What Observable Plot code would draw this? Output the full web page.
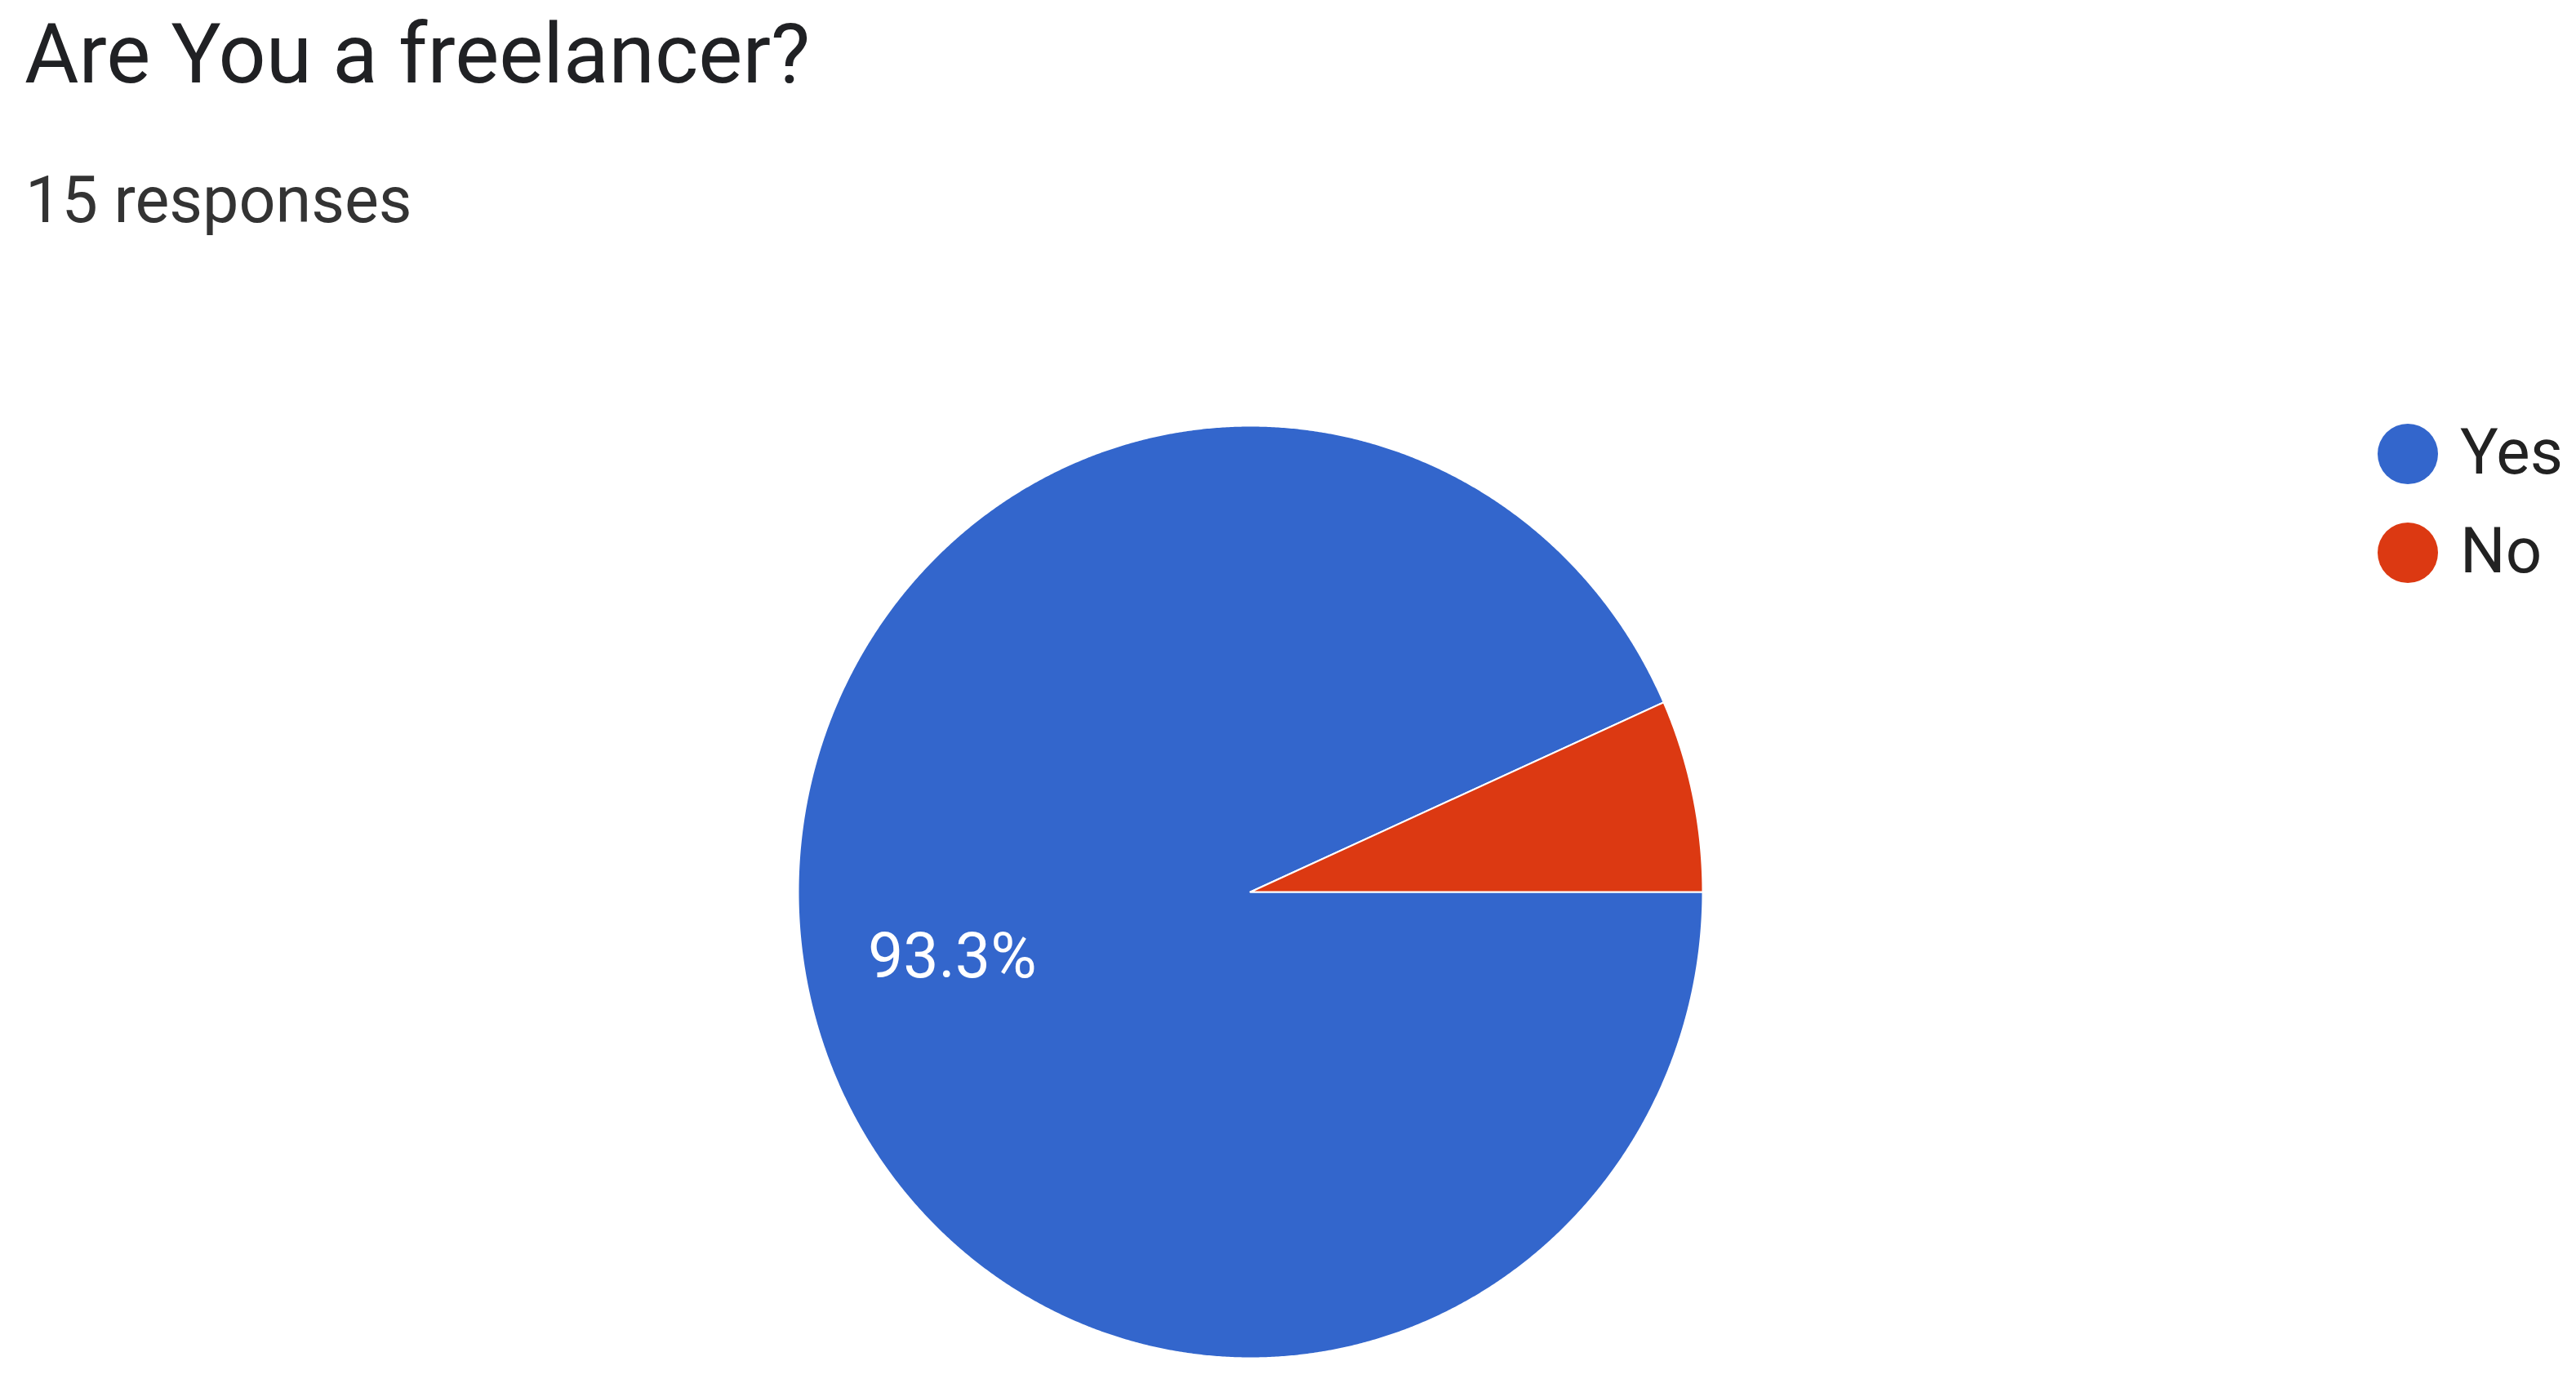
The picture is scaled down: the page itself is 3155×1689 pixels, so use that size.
<!DOCTYPE html>
<html>
<head>
<meta charset="utf-8">
<script src="https://cdn.jsdelivr.net/npm/d3@7"></script>
<script src="https://cdn.jsdelivr.net/npm/@observablehq/plot@0.6"></script>
<style>
  body { margin: 0; background: #fff; font-family: Roboto, "Noto Sans", sans-serif; }
  #page { position: relative; width: 3155px; height: 1689px; overflow: hidden; background: #fff; }
  #header { position: relative; height: 300px; }
  .t { position: absolute; white-space: nowrap; line-height: 1; font-family: Roboto, sans-serif; }
  .sw { position: absolute; border-radius: 50%; }
  #chart svg { display: block; }
</style>
</head>
<body>
<div id="page">
  <div id="header">
    <div class="t" id="title" style="left:30px; top:15px; font-size:102px; color:#202124;"></div>
    <div class="t" id="subtitle" style="left:31px; top:206px; font-size:79px; color:#333;"></div>
  </div>
  <div id="chart"></div>
  <div id="legend"></div>
</div>
<script>
// ---- data ----
const titleText = "Are You a freelancer?";
const categories = ["Yes", "No"];
const counts = [14, 1];
const colors = ["#3366cc", "#dc3912"];

const total = d3.sum(counts);
document.getElementById("title").textContent = titleText;
document.getElementById("subtitle").textContent = `${total} responses`;

// pie geometry from data (start at 3 o'clock, clockwise)
const pie = d3.pie().sort(null).startAngle(Math.PI / 2).endAngle(Math.PI / 2 + 2 * Math.PI);
const arcs = pie(counts);

const slicePoints = [];
arcs.forEach((a, i) => {
  const cat = categories[i];
  slicePoints.push({cat, x: 0, y: 0});
  const n = Math.max(2, Math.ceil((a.endAngle - a.startAngle) / (Math.PI / 720)));
  for (let k = 0; k <= n; k++) {
    const t = a.startAngle + (a.endAngle - a.startAngle) * k / n;
    slicePoints.push({cat, x: Math.sin(t), y: Math.cos(t)});
  }
});

const labels = arcs
  .map((a, i) => {
    const mid = (a.startAngle + a.endAngle) / 2;
    const frac = counts[i] / total;
    return {cat: categories[i], frac, x: 0.674 * Math.sin(mid), y: 0.674 * Math.cos(mid),
            text: (frac * 100).toFixed(1) + "%"};
  })
  .filter(d => d.frac >= 0.1);

const chart = Plot.plot({
  width: 3155,
  height: 1389,
  marginLeft: 977,
  marginRight: 1070,
  marginTop: 221,
  marginBottom: 26,
  style: {fontFamily: "Roboto, sans-serif", background: "white", overflow: "visible"},
  x: {domain: [-1, 1], axis: null},
  y: {domain: [-1, 1], axis: null},
  color: {domain: categories, range: colors},
  marks: [
    Plot.line(slicePoints, {
      x: "x", y: "y", z: "cat", fill: "cat",
      stroke: "white", strokeWidth: 2, curve: "linear-closed"
    }),
    Plot.text(labels, {
      x: "x", y: "y", text: "text", fill: "white",
      fontSize: 77, fontFamily: "Roboto, sans-serif", textAnchor: "middle"
    })
  ]
});
document.getElementById("chart").appendChild(chart);

// legend (HTML, top right)
const legend = document.getElementById("legend");
categories.forEach((c, i) => {
  const cy = 556 + i * 121;
  const sw = document.createElement("div");
  sw.className = "sw";
  sw.style.cssText = `left:${2949 - 37}px; top:${cy - 37}px; width:74px; height:74px; background:${colors[i]};`;
  legend.appendChild(sw);
  const tx = document.createElement("div");
  tx.className = "t";
  tx.style.cssText = `left:3013px; top:${cy + 25 - 66}px; font-size:78px; color:#222;`;
  tx.textContent = c;
  legend.appendChild(tx);
});
</script>
</body>
</html>
